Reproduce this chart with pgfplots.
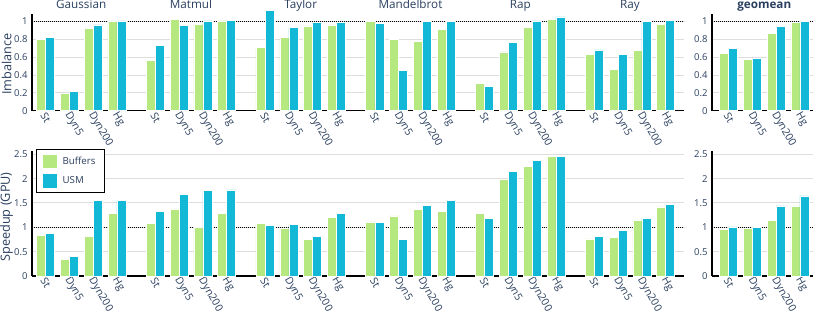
\documentclass[border=0pt]{standalone}
\usepackage{pgfplots}
\pgfplotsset{compat=1.18}
\usepackage{pgfplotstable}
\usepackage{fontspec}
\setmainfont{Open Sans}
\definecolor{bufc}{RGB}{182,232,128}
\definecolor{usmc}{RGB}{18,184,214}
\definecolor{txt}{RGB}{42,63,95}

\pgfplotstableread{
x buf usm
0 0.80 0.82
1 0.20 0.22
2 0.925 0.96
3 1.007 1.007
4.613 0.56 0.735
5.613 1.02 0.955
6.613 0.97 1.007
7.613 1.007 1.015
9.226 0.71 1.12
10.226 0.825 0.93
11.226 0.95 0.99
12.226 0.96 0.99
13.839 0.996 0.98
14.839 0.795 0.448
15.839 0.78 0.996
16.839 0.91 0.996
18.452 0.306 0.276
19.452 0.66 0.765
20.452 0.937 1.007
21.452 1.02 1.05
23.065 0.634 0.68
24.065 0.466 0.627
25.065 0.675 0.996
26.065 0.97 1.015
}\imbmain

\pgfplotstableread{
x buf usm
0 0.642 0.698
1 0.578 0.59
2 0.866 0.948
3 0.985 1.0
}\imbgeo

\pgfplotstableread{
x buf usm
0 0.84 0.877
1 0.34 0.40
2 0.815 1.56
3 1.28 1.55
4.613 1.08 1.33
5.613 1.38 1.68
6.613 1.0 1.75
7.613 1.29 1.77
9.226 1.075 1.04
10.226 0.97 1.055
11.226 0.753 0.815
12.226 1.2 1.28
13.839 1.11 1.096
14.839 1.233 0.747
15.839 1.37 1.45
16.839 1.32 1.56
18.452 1.29 1.19
19.452 1.98 2.15
20.452 2.25 2.38
21.452 2.45 2.45
23.065 0.76 0.81
24.065 0.795 0.94
25.065 1.15 1.19
26.065 1.42 1.47
}\spdmain

\pgfplotstableread{
x buf usm
0 0.96 1.007
1 0.98 1.0
2 1.137 1.44
3 1.44 1.644
}\spdgeo

\tikzset{gtitle/.style={font=\fontsize{11.7}{12}\selectfont, text=txt, anchor=base, yshift=5.5pt}}

\pgfplotsset{
  base/.style={
    scale only axis,
    clip=false,
    axis x line*=bottom, axis y line*=left,
    every outer x axis line/.append style={-},
    every outer y axis line/.append style={-},
    axis line style={-, black, line width=1.3pt},
    major tick length=0pt,
    ymin=0,
    ymajorgrids,
    major grid style={black!13, line width=0.9pt},
    tick label style={text=txt},
    yticklabel style={font=\fontsize{9.5}{10}\selectfont, xshift=-1pt},
    xticklabel style={font=\fontsize{10.5}{11}\selectfont, rotate=-60, anchor=west, inner sep=1pt, yshift=-3pt},
    /pgf/number format/assume math mode=true,
  },
  mainx/.style={
    xmin=-0.567, xmax=26.835, width=652pt,
    xtick={0,1,2,3,4.613,5.613,6.613,7.613,9.226,10.226,11.226,12.226,13.839,14.839,15.839,16.839,18.452,19.452,20.452,21.452,23.065,24.065,25.065,26.065},
    xticklabels={St,Dyn5,Dyn200,Hg,St,Dyn5,Dyn200,Hg,St,Dyn5,Dyn200,Hg,St,Dyn5,Dyn200,Hg,St,Dyn5,Dyn200,Hg,St,Dyn5,Dyn200,Hg},
  },
  geox/.style={
    xmin=-0.70, xmax=3.55, width=101pt,
    xtick={0,1,2,3},
    xticklabels={St,Dyn5,Dyn200,Hg},
  },
  bufbar/.style={ybar, bar width=0.38, bar shift=-0.19, fill=bufc, draw=white, line width=0.5pt, forget plot},
  usmbar/.style={ybar, bar width=0.38, bar shift=0.19, fill=usmc, draw=white, line width=0.5pt, forget plot},
  refline/.style={black, line width=0.7pt, dash pattern=on 0.8pt off 1.2pt, forget plot},
}

\begin{document}
\begin{tikzpicture}
\useasboundingbox (0,0) rectangle (822pt,311pt);

% ---- top main: Imbalance
\begin{axis}[base, mainx, at={(32pt,200.3pt)}, anchor=south west,
  height=96.9pt, ymax=1.085, ytick={0,0.2,0.4,0.6,0.8,1}]
  \addplot[refline] coordinates {(-0.567,1) (26.835,1)};
  \addplot[bufbar] table[x=x,y=buf] {\imbmain};
  \addplot[usmbar] table[x=x,y=usm] {\imbmain};
  \node[gtitle] at (axis cs:1.5,1.085) {Gaussian};
  \node[gtitle] at (axis cs:6.113,1.085) {Matmul};
  \node[gtitle] at (axis cs:10.726,1.085) {Taylor};
  \node[gtitle] at (axis cs:15.339,1.085) {Mandelbrot};
  \node[gtitle] at (axis cs:19.952,1.085) {Rap};
  \node[gtitle] at (axis cs:24.565,1.085) {Ray};
\end{axis}

% ---- top geomean
\begin{axis}[base, geox, at={(712pt,200.3pt)}, anchor=south west,
  height=96.9pt, ymax=1.085, ytick={0,0.2,0.4,0.6,0.8,1}]
  \addplot[refline] coordinates {(-0.70,1) (3.55,1)};
  \addplot[bufbar] table[x=x,y=buf] {\imbgeo};
  \addplot[usmbar] table[x=x,y=usm] {\imbgeo};
  \node[gtitle, font=\bfseries\fontsize{11.7}{12}\selectfont] at (axis cs:1.5,1.085) {geomean};
\end{axis}

% ---- bottom main: Speedup
\begin{axis}[base, mainx, at={(32pt,35pt)}, anchor=south west,
  height=125.2pt, ymax=2.57, ytick={0,0.5,1,1.5,2,2.5},
  legend style={at={(0.0061,1.0136)}, anchor=north west, draw=black, line width=0.9pt,
    fill=white, font=\fontsize{9.7}{10}\selectfont, text=txt, row sep=6.5pt,
    column sep=4pt, inner xsep=7pt, inner ysep=5pt, nodes={inner sep=2pt}},
  legend cell align=left]
  \addplot[refline] coordinates {(-0.567,1) (26.835,1)};
  \addplot[bufbar] table[x=x,y=buf] {\spdmain};
  \addplot[usmbar] table[x=x,y=usm] {\spdmain};
  \addlegendimage{legend image code/.code={\fill[bufc] (0pt,-6.15pt) rectangle (12.3pt,6.15pt);}}
  \addlegendentry{Buffers}
  \addlegendimage{legend image code/.code={\fill[usmc] (0pt,-6.15pt) rectangle (12.3pt,6.15pt);}}
  \addlegendentry{USM}
\end{axis}

% ---- bottom geomean
\begin{axis}[base, geox, at={(712pt,35pt)}, anchor=south west,
  height=125.2pt, ymax=2.57, ytick={0,0.5,1,1.5,2,2.5}]
  \addplot[refline] coordinates {(-0.70,1) (3.55,1)};
  \addplot[bufbar] table[x=x,y=buf] {\spdgeo};
  \addplot[usmbar] table[x=x,y=usm] {\spdgeo};
\end{axis}

\node[rotate=90, font=\fontsize{12.7}{13}\selectfont, text=txt] at (6.5pt,247pt) {Imbalance};
\node[rotate=90, font=\fontsize{12.7}{13}\selectfont, text=txt] at (6.5pt,94pt) {Speedup (GPU)};
\end{tikzpicture}
\end{document}
